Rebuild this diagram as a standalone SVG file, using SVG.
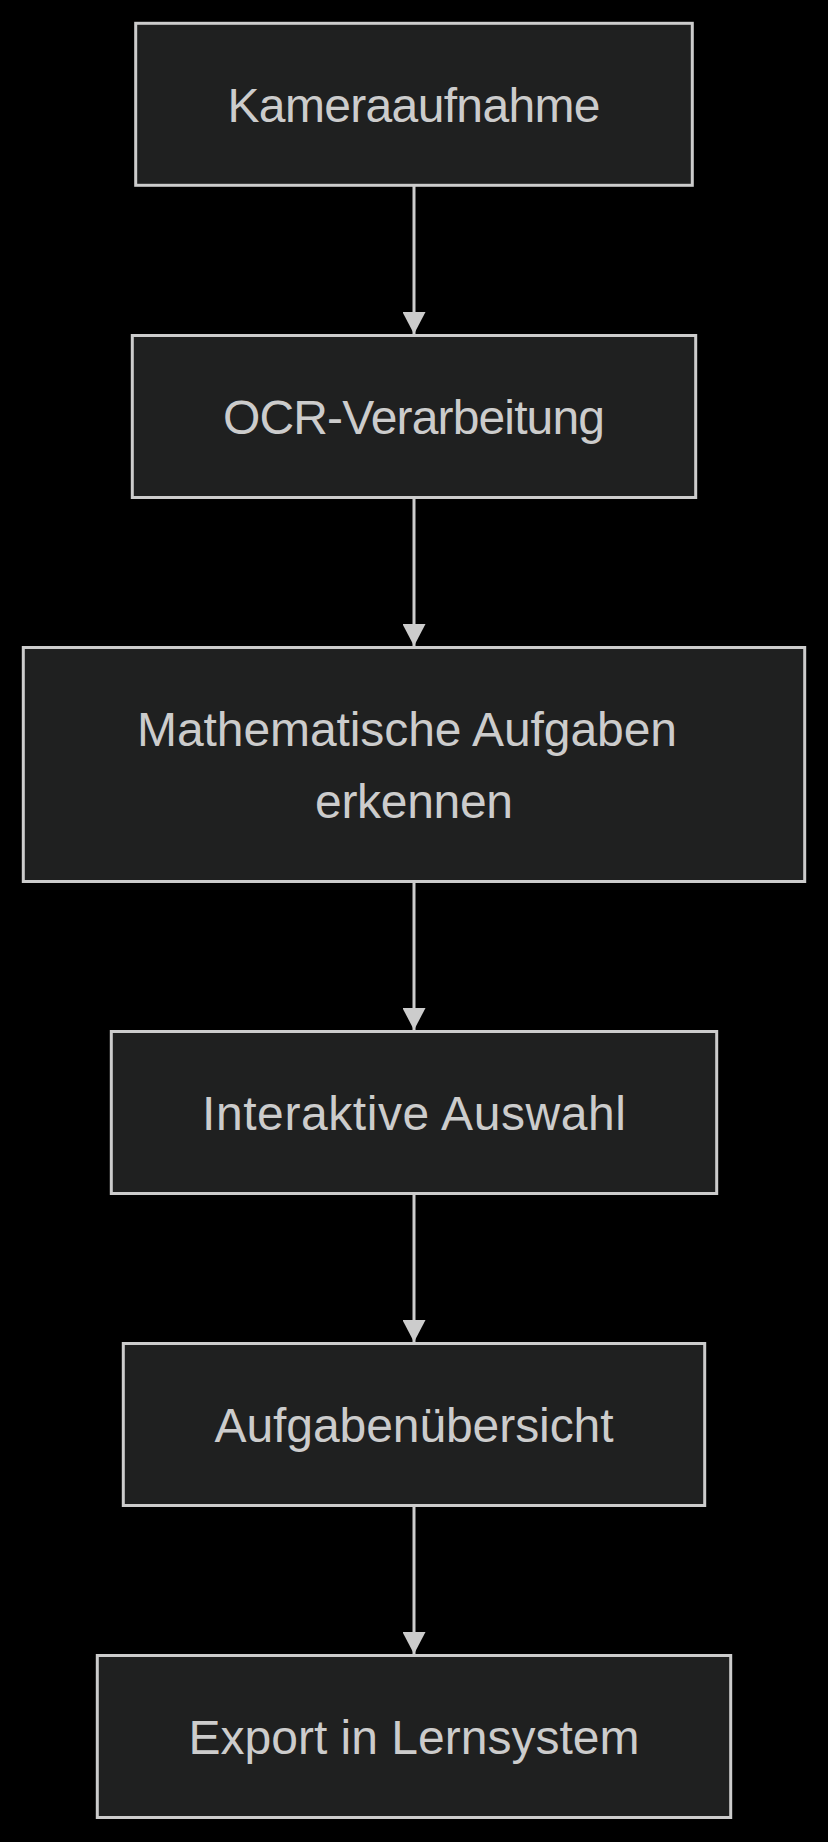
<svg xmlns="http://www.w3.org/2000/svg" width="828" height="1842" viewBox="0 0 828 1842">
<style>
.bg{fill:#000000}
.node rect{fill:#1f2020;stroke:#cccccc;stroke-width:3}
.node text{fill:#cccccc;font-family:"Liberation Sans",Arial,sans-serif;font-size:48px;text-anchor:middle}
.edge{stroke:#cccccc;stroke-width:3;fill:none}
</style>
<defs>
<marker id="arrow" markerUnits="userSpaceOnUse" viewBox="0 0 22 23" refX="22" refY="11.5" markerWidth="22" markerHeight="23" orient="auto">
<path d="M0,0 L22,11.5 L0,23 z" fill="#cccccc"/>
</marker>
</defs>
<rect class="bg" x="0" y="0" width="828" height="1842"/>
<g id="connectors">
<path class="edge" d="M414,185.3 L414,334" marker-end="url(#arrow)"/>
<path class="edge" d="M414,497.5 L414,646" marker-end="url(#arrow)"/>
<path class="edge" d="M414,881.5 L414,1030" marker-end="url(#arrow)"/>
<path class="edge" d="M414,1193.5 L414,1342" marker-end="url(#arrow)"/>
<path class="edge" d="M414,1505.5 L414,1654" marker-end="url(#arrow)"/>
</g>
<g id="n1" class="node">
<rect x="135.7" y="23.3" width="556.6" height="162"/>
<text x="414" y="121.8" textLength="373" lengthAdjust="spacing">Kameraaufnahme</text>
</g>
<g id="n2" class="node">
<rect x="132.3" y="335.5" width="563.4" height="162"/>
<text x="414" y="434" textLength="382" lengthAdjust="spacing">OCR-Verarbeitung</text>
</g>
<g id="n3" class="node">
<rect x="23.3" y="647.5" width="781.4" height="234"/>
<text x="407" y="746" textLength="540" lengthAdjust="spacing">Mathematische Aufgaben</text>
<text x="414" y="818" textLength="198" lengthAdjust="spacing">erkennen</text>
</g>
<g id="n4" class="node">
<rect x="111.3" y="1031.5" width="605.4" height="162"/>
<text x="414" y="1130" textLength="424" lengthAdjust="spacing">Interaktive Auswahl</text>
</g>
<g id="n5" class="node">
<rect x="123.3" y="1343.5" width="581.4" height="162"/>
<text x="414" y="1442" textLength="399" lengthAdjust="spacing">Aufgabenübersicht</text>
</g>
<g id="n6" class="node">
<rect x="97.3" y="1655.5" width="633.4" height="162"/>
<text x="414" y="1754" textLength="451" lengthAdjust="spacing">Export in Lernsystem</text>
</g>
</svg>
